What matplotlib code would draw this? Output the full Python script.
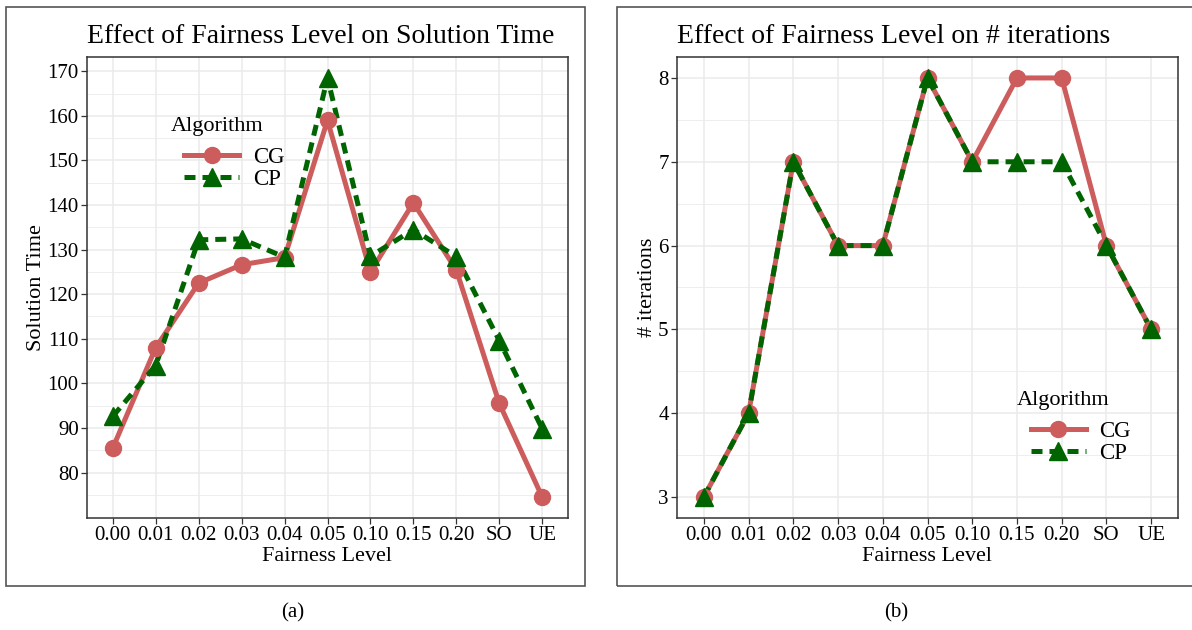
import matplotlib
matplotlib.use('Agg')
import matplotlib.pyplot as plt
from matplotlib.lines import Line2D
from matplotlib.patches import Rectangle
import numpy as np

levels = ['0.00', '0.01', '0.02', '0.03', '0.04', '0.05', '0.10', '0.15', '0.20', 'SO', 'UE']

time_cg = [85.5, 108.0, 122.5, 126.6, 128.2, 159.0, 125.0, 140.5, 125.4, 95.5, 74.5]
time_cp = [92.6, 104.0, 132.2, 132.4, 128.3, 168.5, 128.5, 134.5, 128.4, 109.6, 89.8]

iter_cg = [3, 4, 7, 6, 6, 8, 7, 8, 8, 6, 5]
iter_cp = [3, 4, 7, 6, 6, 8, 7, 7, 7, 6, 5]

CG_COL = '#CD5C5C'
CP_COL = '#006400'
GRID_COL = '#EBEBEB'
BORDER_COL = '#333333'

plt.rcParams['font.family'] = ['Liberation Serif', 'DejaVu Serif']

fig = plt.figure(figsize=(11.92, 6.3), dpi=100)


def px(x0, y0, x1, y1):
    W, H = 1192, 630
    return [x0 / W, 1 - y1 / H, (x1 - x0) / W, (y1 - y0) / H]


def draw_panel(ax, cg, cp, yticks, yminor, title, ylabel, legend_pos):
    x = np.arange(len(levels))
    lw = 3.6
    # lines first, then points (like ggplot)
    ax.plot(x, cg, color=CG_COL, lw=lw, solid_capstyle='butt', zorder=3)
    ax.plot(x, cp, color=CP_COL, lw=lw, dashes=(2.2, 1.4), dash_capstyle='butt', zorder=4)
    ax.plot(x, cg, ls='none', marker='o', ms=11.5, color=CG_COL, zorder=5)
    ax.plot(x, cp, ls='none', marker='^', ms=13, color=CP_COL, zorder=6)

    lo, hi = min(min(cg), min(cp)), max(max(cg), max(cp))
    pad = (hi - lo) * 0.05
    ax.set_ylim(lo - pad, hi + pad)
    ax.set_xlim(-0.6, len(levels) - 0.4)

    ax.set_xticks(x)
    ax.set_xticklabels(levels)
    ax.set_yticks(yticks)
    ax.set_yticks(yminor, minor=True)
    ax.grid(True, which='major', color=GRID_COL, lw=1.1, zorder=0)
    ax.grid(True, which='minor', axis='y', color=GRID_COL, lw=0.6, zorder=0)
    ax.set_axisbelow(True)
    ax.tick_params(axis='both', which='major', labelsize=15, length=4, width=0.9,
                   color=BORDER_COL, labelcolor='black', pad=2)
    ax.tick_params(axis='y', which='minor', length=0)
    for s in ax.spines.values():
        s.set_color(BORDER_COL)
        s.set_linewidth(1.1)
    ax.set_xlabel('Fairness Level', fontsize=16, labelpad=1)
    ax.set_ylabel(ylabel, fontsize=16, labelpad=1)
    ax.set_title(title, fontsize=20, pad=10, loc='left', x=0.0)

    handles = [
        Line2D([], [], color=CG_COL, lw=lw, marker='o', ms=11.5),
        Line2D([], [], color=CP_COL, lw=lw, dashes=(2.2, 1.4), marker='^', ms=13),
    ]
    leg = ax.legend(handles, ['CG', 'CP'], title='Algorithm', loc='upper left',
                    bbox_to_anchor=legend_pos, frameon=False, fontsize=16.5,
                    title_fontsize=16, handlelength=2.4, labelspacing=0.05,
                    handletextpad=0.6, borderpad=0)
    leg._legend_box.align = 'left'
    leg._legend_box.sep = -2
    # indent the keys a little relative to the title
    leg._legend_handle_box.pad = 10


ax1 = fig.add_axes(px(87, 57, 568, 518))
draw_panel(ax1, time_cg, time_cp, [80, 90, 100, 110, 120, 130, 140, 150, 160, 170],
           [75, 85, 95, 105, 115, 125, 135, 145, 155, 165],
           'Effect of Fairness Level on Solution Time', 'Solution Time', (0.15, 0.895))

ax2 = fig.add_axes(px(677, 57, 1178, 518))
draw_panel(ax2, iter_cg, iter_cp, [3, 4, 5, 6, 7, 8], [3.5, 4.5, 5.5, 6.5, 7.5],
           'Effect of Fairness Level on # iterations', '# iterations', (0.655, 0.30))

# subfigure frames
for x0, x1 in [(6, 585), (617, 1205)]:
    r = Rectangle((x0 / 1192, 1 - 586 / 630), (x1 - x0) / 1192, (586 - 7) / 630,
                  transform=fig.transFigure, fill=False, edgecolor='#555555', lw=1.2)
    fig.patches.append(r)

fig.text(293 / 1192, 1 - 613 / 630, '(a)', ha='center', va='center', fontsize=15)
fig.text(896 / 1192, 1 - 613 / 630, '(b)', ha='center', va='center', fontsize=15)

fig.savefig('out.png', dpi=100)
